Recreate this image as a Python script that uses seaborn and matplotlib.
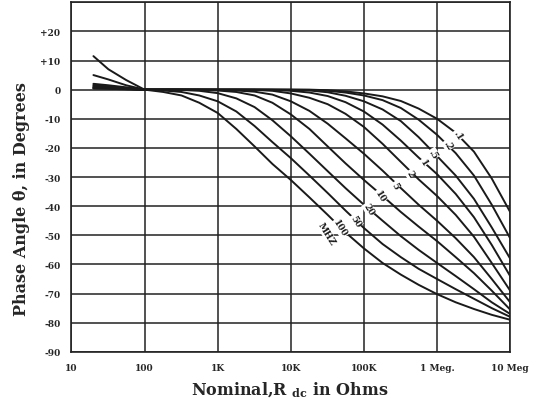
import pandas as pd
import matplotlib
matplotlib.use("Agg")
import matplotlib.pyplot as plt
import seaborn as sns

# Nominal resistance (ohms) at which the curves were read
resistance = [20, 32, 56, 100, 180, 320, 560, 1e3, 1.8e3, 3.2e3, 5.6e3, 1e4,
              1.8e4, 3.2e4, 5.6e4, 1e5, 1.8e5, 3.2e5, 5.6e5, 1e6, 1.8e6, 3.2e6,
              5.6e6, 1e7]

# Phase angle (degrees), one list per frequency (MHz)
phase_100 = [11.5, 7, 3.3, 0, -0.8, -2, -4.5, -8, -13.5, -19.5, -25.5, -31,
             -37, -43, -49, -54.5, -59.5, -63.5, -67, -70.2, -73, -75.3, -77.3, -79]
phase_50 = [5, 3.5, 1.5, 0, -0.3, -0.8, -2, -4, -7.5, -12.5, -18, -23.5, -29.5,
            -35.5, -41.5, -47.5, -53, -57.5, -61.5, -65, -68.5, -71.8, -75, -78]
phase_20 = [2, 1.5, 0.8, 0, 0, -0.1, -0.4, -1.2, -3, -6, -10.5, -16, -22, -28,
            -33.8, -39.5, -45, -50.3, -55, -59.5, -64, -68.5, -73, -77]
phase_10 = [1.6, 1.1, 0.5, 0, 0, 0, -0.1, -0.3, -0.8, -2, -4.5, -8.5, -13.5,
            -19.5, -25.3, -31, -36.5, -42, -47, -52, -57.5, -63, -69, -75.5]
phase_5 = [1.3, 0.9, 0.4, 0, 0, 0, 0, -0.1, -0.3, -0.7, -1.7, -4, -7.3, -11.7,
           -16.7, -22, -27.8, -33.8, -39.5, -45, -51, -57.5, -65, -73]
phase_2 = [1.0, 0.7, 0.3, 0, 0, 0, 0, 0, 0, -0.1, -0.4, -1.3, -2.8, -5, -8.3,
           -12.8, -18.6, -24.8, -30.8, -36.5, -43, -50.5, -59.5, -69]
phase_1 = [0.8, 0.6, 0.3, 0, 0, 0, 0, 0, 0, 0, -0.1, -0.4, -1, -2.2, -4.3,
           -7.5, -12, -17.5, -23.3, -29, -35.8, -43.8, -53.3, -64]
phase_05 = [0.6, 0.5, 0.2, 0, 0, 0, 0, 0, 0, 0, 0, -0.1, -0.3, -0.9, -2.1, -4,
            -6.8, -10.8, -16.3, -22.8, -29.5, -37.5, -47.3, -58]
phase_02 = [0.5, 0.4, 0.2, 0, 0, 0, 0, 0, 0, 0, 0, 0, -0.1, -0.4, -1, -2,
            -3.6, -6.3, -10.3, -15.5, -21.8, -29.5, -39.5, -51]
phase_01 = [0.4, 0.3, 0.1, 0, 0, 0, 0, 0, 0, 0, 0, 0, 0, -0.2, -0.6, -1.3,
            -2.3, -3.9, -6.5, -10, -14.8, -21.3, -30.5, -42]

freq_labels = [".1", ".2", ".5", "1", "2", "5", "10", "20", "50", "100"]
curves = [phase_01, phase_02, phase_05, phase_1, phase_2, phase_5, phase_10,
          phase_20, phase_50, phase_100]

# where each frequency label sits along its curve
label_r = [1.95e6, 1.41e6, 8.9e5, 6.5e5, 4.3e5, 2.7e5, 1.66e5, 1.17e5, 7.8e4, 4.7e4]
label_deg = [-15.5, -19, -22, -25, -28.8, -32.8, -36.5, -41, -45, -47.5]

y_ticks = [-90, -80, -70, -60, -50, -40, -30, -20, -10, 0, 10, 20, 30]
y_ticklabels = ["-90", "-80", "-70", "-60", "-50", "-40", "-30", "-20", "-10",
                "0", "+10", "+20", ""]
x_ticks = [10, 100, 1e3, 1e4, 1e5, 1e6, 1e7]
x_ticklabels = ["10", "100", "1K", "10K", "100K", "1 Meg.", "10 Meg"]

rows = []
for lab, vals in zip(freq_labels, curves):
    for r, p in zip(resistance, vals):
        rows.append({"R": r, "phase": p, "freq": lab})
df = pd.DataFrame(rows)

sns.set_style("white")
plt.rcParams["font.family"] = ["DejaVu Serif"]
plt.rcParams["mathtext.fontset"] = "dejavuserif"

fig = plt.figure(figsize=(5.37, 4.06), dpi=100)
ax = fig.add_axes([0.133, 0.131, 0.817, 0.861])

sns.lineplot(data=df, x="R", y="phase", hue="freq", palette=["#1a1a1a"] * 10,
             legend=False, linewidth=1.4, estimator=None, sort=False, ax=ax,
             solid_joinstyle="round")

ax.set_xscale("log")
ax.set_xlim(10, 1e7)
ax.set_ylim(-90, 30)
ax.set_xticks(x_ticks)
ax.set_xticklabels(x_ticklabels)
ax.minorticks_off()
ax.set_yticks(y_ticks)
ax.set_yticklabels(y_ticklabels)
ax.tick_params(length=0, labelsize=6.5, pad=8)
for t in ax.get_xticklabels() + ax.get_yticklabels():
    t.set_fontweight("bold")
ax.grid(True, color="#222222", linewidth=1.1)
for s in ax.spines.values():
    s.set_color("#222222")
    s.set_linewidth(1.2)
ax.set_xlabel("")
ax.set_ylabel("")

for lab, r, d in zip(freq_labels, label_r, label_deg):
    ax.text(r, d, lab, rotation=-58, ha="center", va="center", fontsize=6.5,
            fontweight="bold", color="#1a1a1a",
            bbox=dict(facecolor="white", edgecolor="none", pad=0.4))
ax.text(3.1e4, -49.3, "MHZ", rotation=-58, ha="center", va="center",
        fontsize=6.5, fontweight="bold", color="#1a1a1a",
        bbox=dict(facecolor="white", edgecolor="none", pad=0.4))

fig.text(22 / 537, 1 - 199 / 406, "Phase Angle θ, in Degrees", rotation=90,
         ha="center", va="center", fontsize=11.5, fontweight="bold")
fig.text(290 / 537, 1 - 390 / 406, r"Nominal,R $\mathbf{_{dc}}$ in Ohms",
         ha="center", va="center", fontsize=11.5, fontweight="bold")

fig.savefig("out.png", dpi=100)
